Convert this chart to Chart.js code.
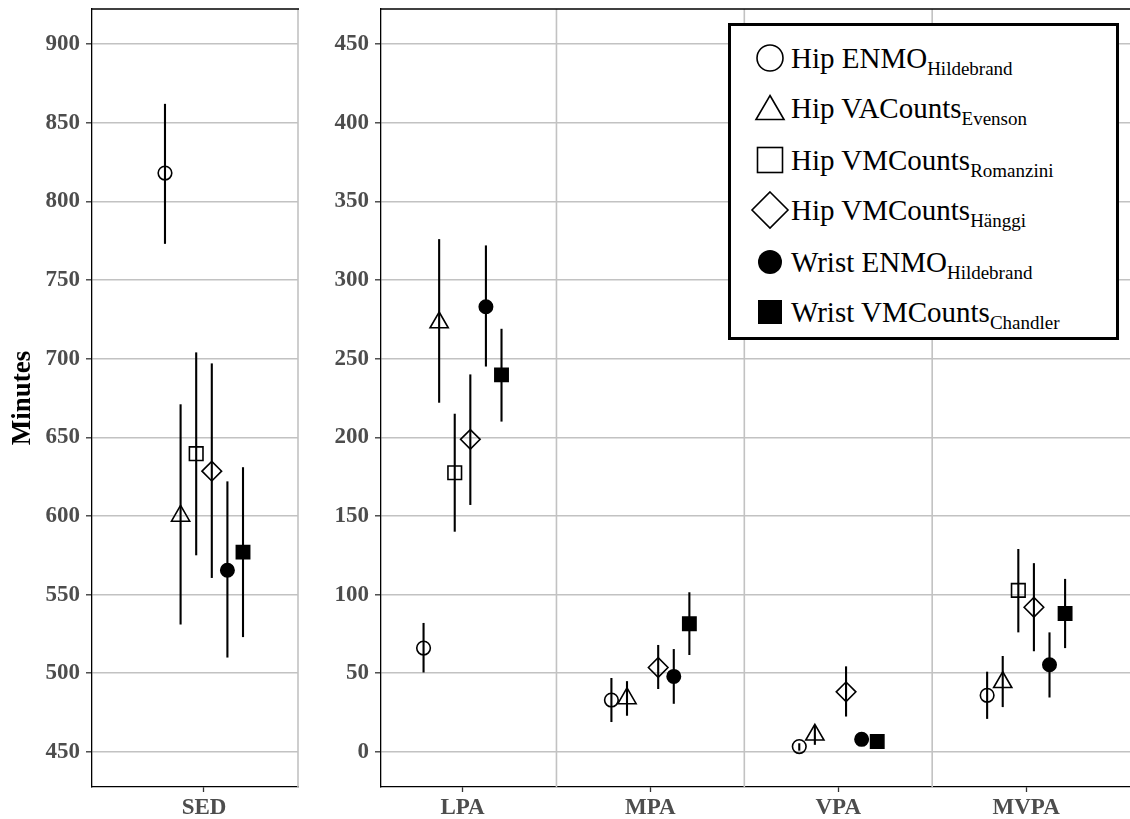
<!DOCTYPE html>
<html>
<head>
<meta charset="utf-8">
<script src="https://cdn.jsdelivr.net/npm/chart.js@4.4.1/dist/chart.umd.min.js"></script>
<style>
  html, body { margin: 0; padding: 0; background: #fff; }
  #wrap { position: relative; width: 1130px; height: 819px; overflow: hidden; background: #fff; }
  #c1 { position: absolute; left: 0; top: 0; }
  #c2 { position: absolute; left: 300px; top: 0; }
  #legend {
    position: absolute; left: 728px; top: 23px; width: 391px; height: 317px;
    box-sizing: border-box; border: 3px solid #000; background: #fff;
    font-family: "Liberation Serif", "Times New Roman", serif; color: #000;
  }
  .row { position: absolute; left: 0; height: 29px; line-height: 29px; font-size: 29px; white-space: nowrap; }
  .row svg { position: absolute; left: 19px; top: -6px; }
  .row .txt { position: absolute; left: 60px; top: 0; }
  .row sub { font-size: 19px; vertical-align: -7px; line-height: 0; }
</style>
</head>
<body>
<div id="wrap">
  <canvas id="c1" width="300" height="819"></canvas>
  <canvas id="c2" width="830" height="819"></canvas>
  <div id="legend"></div>
</div>
<script>
// ---------- data ----------
const categories = ['SED', 'LPA', 'MPA', 'VPA', 'MVPA'];
const sedTicks = [450, 500, 550, 600, 650, 700, 750, 800, 850, 900];
const paTicks = [0, 50, 100, 150, 200, 250, 300, 350, 400, 450];

const seriesNames = ['Hip ENMO', 'Hip VACounts', 'Hip VMCounts', 'Hip VMCounts', 'Wrist ENMO', 'Wrist VMCounts'];
const seriesSubs  = ['Hildebrand', 'Evenson', 'Romanzini', 'Hänggi', 'Hildebrand', 'Chandler'];

// mean, lower, upper per category (SED, LPA, MPA, VPA, MVPA)
const hipEnmoMean = [818, 66, 33, 3.4, 36];
const hipEnmoLo   = [773, 50.5, 19, 0.8, 21];
const hipEnmoHi   = [862, 82, 47, 5.5, 51];

const hipVaMean = [600, 273, 34, 10.9, 44.3];
const hipVaLo   = [531, 222, 23, 4.5, 28.5];
const hipVaHi   = [671, 326, 45, 17, 61];

const hipRomMean = [639.6, 177.5, null, null, 102.7];
const hipRomLo   = [575, 140, null, null, 76];
const hipRomHi   = [704, 215, null, null, 129];

const hipHanMean = [628.5, 198.7, 53.7, 38.2, 92];
const hipHanLo   = [560.6, 157, 40, 22.5, 64];
const hipHanHi   = [697, 240, 68, 54.4, 120];

const wristEnmoMean = [565.5, 283, 48, 8, 55.4];
const wristEnmoLo   = [510, 245, 30.6, 7, 34.6];
const wristEnmoHi   = [622, 322, 65.4, 9, 76];

const wristChaMean = [577, 239.7, 81.5, 6.6, 88];
const wristChaLo   = [523, 210, 61.6, 5.5, 66];
const wristChaHi   = [631, 269, 101.5, 7.7, 110];

const seriesMean = [hipEnmoMean, hipVaMean, hipRomMean, hipHanMean, wristEnmoMean, wristChaMean];
const seriesLo   = [hipEnmoLo, hipVaLo, hipRomLo, hipHanLo, wristEnmoLo, wristChaLo];
const seriesHi   = [hipEnmoHi, hipVaHi, hipRomHi, hipHanHi, wristEnmoHi, wristChaHi];

// ---------- styles ----------
const styles = [
  { pointStyle: 'circle',   radius: 6.8, fill: 'rgba(0,0,0,0)' },
  { pointStyle: 'triangle', radius: 10.5, fill: 'rgba(0,0,0,0)' },
  { pointStyle: 'rect',     radius: 9.6, fill: 'rgba(0,0,0,0)' },
  { pointStyle: 'rectRot',  radius: 9.8, fill: 'rgba(0,0,0,0)' },
  { pointStyle: 'circle',   radius: 6.7, fill: '#000' },
  { pointStyle: 'rect',     radius: 9.4, fill: '#000' }
];
const dodge = 0.083;
const serif = '"Liberation Serif", "Times New Roman", serif';

function makeDatasets(catIdx) {
  return seriesMean.map((means, s) => {
    const pts = [];
    catIdx.forEach((c, k) => {
      if (means[c] === null) return;
      pts.push({ x: (k + 1) + (s - 2.5) * dodge, y: means[c], lo: seriesLo[s][c], hi: seriesHi[s][c] });
    });
    return {
      label: seriesNames[s] + ' ' + seriesSubs[s],
      data: pts,
      pointStyle: styles[s].pointStyle,
      pointRadius: styles[s].radius,
      pointHoverRadius: styles[s].radius,
      pointBackgroundColor: styles[s].fill,
      pointBorderColor: '#000',
      pointBorderWidth: 1.6,
      showLine: false
    };
  });
}

const deco = {
  id: 'deco',
  beforeDatasetsDraw(chart, args, opts) {
    const { ctx, chartArea: a, scales: { x, y } } = chart;
    ctx.save();
    ctx.strokeStyle = '#c2c2c2';
    ctx.lineWidth = 1.6;
    (opts.vlines || []).forEach(v => {
      const px = x.getPixelForValue(v);
      ctx.beginPath(); ctx.moveTo(px, a.top); ctx.lineTo(px, a.bottom); ctx.stroke();
    });
    ctx.strokeStyle = '#000';
    ctx.lineWidth = 1.3;
    ctx.beginPath(); ctx.moveTo(a.left, a.top); ctx.lineTo(a.right + 1, a.top); ctx.stroke();
    // error bars
    ctx.lineWidth = 2.1;
    chart.data.datasets.forEach((ds, i) => {
      const meta = chart.getDatasetMeta(i);
      ds.data.forEach((p, j) => {
        const el = meta.data[j];
        const y1 = y.getPixelForValue(p.lo), y2 = y.getPixelForValue(p.hi);
        ctx.beginPath(); ctx.moveTo(el.x, y1); ctx.lineTo(el.x, y2); ctx.stroke();
      });
    });
    ctx.restore();
  }
};

function zeroPad(s) { s.paddingTop = 0; s.paddingBottom = 0; s.paddingLeft = 0; s.paddingRight = 0; }

function yScale(ticks, min, max, withTitle, width) {
  return {
    type: 'linear', min: min, max: max,
    afterBuildTicks: s => { s.ticks = ticks.map(v => ({ value: v })); },
    afterFit: s => { s.width = width; zeroPad(s); },
    ticks: { autoSkip: false, padding: 6, color: '#4d4d4d', font: { family: serif, size: 23, weight: 'bold' } },
    grid: { color: '#c2c2c2', lineWidth: 1.6, tickLength: 6, tickColor: '#333', tickWidth: 1.3 },
    border: { color: '#000', width: 1.3 },
    title: { display: withTitle, text: 'Minutes', color: '#000', font: { family: serif, size: 27, weight: 'bold' }, padding: { top: 7, bottom: 0 } }
  };
}
function xScale(labels, min, max) {
  return {
    type: 'linear', min: min, max: max,
    afterBuildTicks: s => { s.ticks = labels.map((l, k) => ({ value: k + 1 })); },
    afterFit: s => { s.height = 32; zeroPad(s); },
    ticks: { autoSkip: false, padding: 2, maxRotation: 0, color: '#4d4d4d', font: { family: serif, size: 23, weight: 'bold' },
             callback: v => labels[Math.round(v) - 1] },
    grid: { drawOnChartArea: false, tickLength: 5, tickColor: '#333', tickWidth: 1.3 },
    border: { color: '#000', width: 1.3 }
  };
}

const common = { responsive: false, animation: false, events: [] };

new Chart(document.getElementById('c1'), {
  type: 'scatter',
  data: { datasets: makeDatasets([0]) },
  options: Object.assign({}, common, {
    layout: { autoPadding: false, padding: { top: 9, right: 2, left: 0, bottom: 0 } },
    plugins: { legend: { display: false }, tooltip: { enabled: false }, deco: { vlines: [1.5] } },
    scales: {
      x: xScale(categories.slice(0, 1), 0.4043, 1.5),
      y: yScale(sedTicks, 427.7, 922.3, true, 92)
    }
  }),
  plugins: [deco]
});

new Chart(document.getElementById('c2'), {
  type: 'scatter',
  data: { datasets: makeDatasets([1, 2, 3, 4]) },
  options: Object.assign({}, common, {
    layout: { autoPadding: false, padding: { top: 9, right: 0, left: 0, bottom: 0 } },
    plugins: { legend: { display: false }, tooltip: { enabled: false }, deco: { vlines: [1.5, 2.5, 3.5] } },
    scales: {
      x: xScale(categories.slice(1), 0.566, 4.553),
      y: yScale(paTicks, -22.3, 472.3, false, 81)
    }
  }),
  plugins: [deco]
});

// ---------- legend (HTML, real text) ----------
const markerSvg = [
  '<circle cx="20" cy="20" r="13" fill="none" stroke="#000" stroke-width="1.6"/>',
  '<polygon points="20,6.5 34,30.5 6,30.5" fill="none" stroke="#000" stroke-width="1.6" transform="translate(0,1)"/>',
  '<rect x="7.5" y="7.5" width="25" height="25" fill="none" stroke="#000" stroke-width="1.6"/>',
  '<polygon points="20,2 38,20 20,38 2,20" fill="none" stroke="#000" stroke-width="1.6"/>',
  '<circle cx="20" cy="20" r="12" fill="#000"/>',
  '<rect x="8" y="8" width="24" height="24" fill="#000"/>'
];
const legendRowCenters = [35, 85, 137, 187, 239, 289];
const lg = document.getElementById('legend');
seriesNames.forEach((n, i) => {
  const row = document.createElement('div');
  row.className = 'row';
  row.style.top = (legendRowCenters[i] - 14.5 - 3) + 'px';
  row.innerHTML = '<svg width="40" height="40" viewBox="0 0 40 40">' + markerSvg[i] + '</svg>' +
                  '<span class="txt">' + n + '<sub>' + seriesSubs[i] + '</sub></span>';
  lg.appendChild(row);
});
</script>
</body>
</html>
